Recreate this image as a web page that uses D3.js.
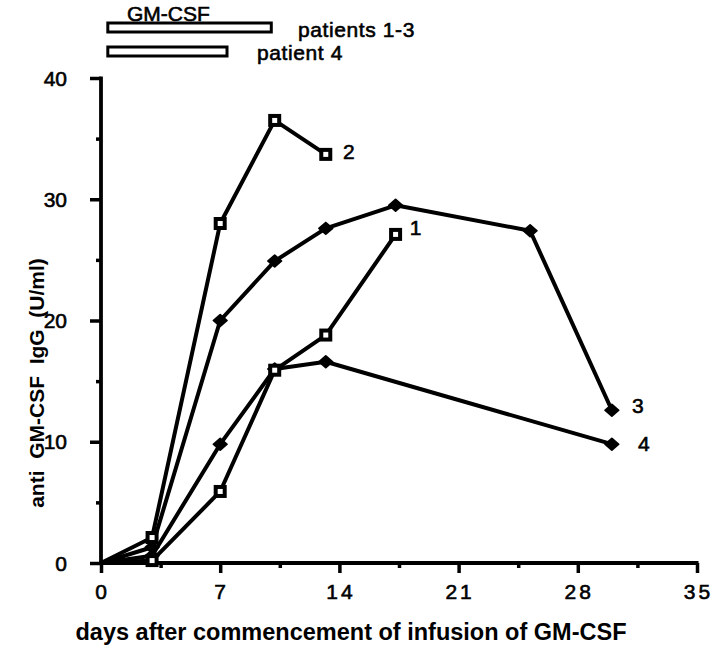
<!DOCTYPE html>
<html>
<head>
<meta charset="utf-8">
<script src="https://cdn.jsdelivr.net/npm/d3@7"></script>
<style>
  html, body { margin: 0; padding: 0; background: #fff; }
  svg { display: block; font-family: "Liberation Sans", Arial, Helvetica, sans-serif; }
  .reg { stroke: #000; stroke-width: 0.6px; }
</style>
</head>
<body>
<script>
// values (days, anti GM-CSF IgG U/ml)
const days1 = [0, 3, 7, 10.2, 13.2, 17.3];
const vals1 = [0, 0.2, 5.9, 15.9, 18.8, 27.1];
const days2 = [0, 3, 7, 10.2, 13.2];
const vals2 = [0, 2.1, 28, 36.5, 33.7];
const days3 = [0, 3, 7, 10.2, 13.2, 17.3, 25.2, 30];
const vals3 = [0, 1.3, 20, 24.9, 27.6, 29.5, 27.4, 12.6];
const days4 = [0, 3, 7, 10.2, 13.2, 30];
const vals4 = [0, 0.6, 9.8, 16, 16.6, 9.8];

const seriesNames = ["1", "2", "3", "4"];
const seriesMarks = ["square", "square", "diamond", "diamond"];

const xTicks = [0, 7, 14, 21, 28, 35];
const yTicks = [0, 10, 20, 30, 40];

// infusion periods shown as bars above the plot
const infusionLabels = ["patients 1-3", "patient 4"];
const infusionStart = [0.4, 0.4];
const infusionEnd = [10, 7.4];

const width = 712, height = 646;
const svg = d3.select("body").append("svg")
    .attr("width", width).attr("height", height);

const x = d3.scaleLinear().domain([0, 35]).range([101, 697]);
const y = d3.scaleLinear().domain([0, 40]).range([563, 78]);

// axes
const xAxis = svg.append("g").attr("transform", "translate(0," + y(0) + ")");
xAxis.call(d3.axisBottom(x).tickValues(d3.range(0, 35.1, 3.5)).tickSize(5).tickFormat(""));
xAxis.call(g => g.selectAll(".tick").filter(d => d % 7 === 0).select("line").attr("y2", 10));
xAxis.selectAll("path.domain").remove();
xAxis.append("line").attr("x1", x(0) - 2).attr("x2", x(35) + 1.5).attr("stroke", "#000").attr("stroke-width", 3.8);
xAxis.selectAll(".tick line").attr("stroke", "#000").attr("stroke-width", 3.5);

svg.append("g").selectAll("text").data(xTicks).join("text")
    .attr("class", "reg")
    .attr("x", d => x(d) + 1.5)
    .attr("y", 599)
    .attr("text-anchor", "middle")
    .attr("font-size", 21)
    .attr("letter-spacing", 3)
    .text(d => d);

const yAxis = svg.append("g").attr("transform", "translate(" + x(0) + ",0)");
yAxis.call(d3.axisLeft(y).tickValues(d3.range(0, 40.1, 5)).tickSize(5).tickFormat(""));
yAxis.call(g => g.selectAll(".tick").filter(d => d % 10 === 0).select("line").attr("x2", -11));
yAxis.selectAll("path.domain").remove();
yAxis.append("line").attr("y1", y(0) + 1.5).attr("y2", y(40) - 1.5).attr("stroke", "#000").attr("stroke-width", 3.8);
yAxis.selectAll(".tick line").attr("stroke", "#000").attr("stroke-width", 3.5);

svg.append("g").selectAll("text").data(yTicks).join("text")
    .attr("class", "reg")
    .attr("x", 67)
    .attr("y", d => y(d) + 7.5)
    .attr("text-anchor", "end")
    .attr("font-size", 21)
    .text(d => d);

// axis titles
svg.append("text")
    .attr("x", 351).attr("y", 640)
    .attr("text-anchor", "middle")
    .attr("font-size", 23.5)
    .attr("font-weight", "bold")
    .text("days after commencement of infusion of GM-CSF");

svg.append("text")
    .attr("transform", "translate(44,383) rotate(-90)")
    .attr("text-anchor", "middle")
    .attr("font-size", 21)
    .attr("font-weight", "bold")
    .style("white-space", "pre")
    .text("anti  GM-CSF  IgG  (U/ml)");

// series
const allDays = [days1, days2, days3, days4];
const allVals = [vals1, vals2, vals3, vals4];
const series = seriesNames.map((name, i) => ({
  name: name,
  mark: seriesMarks[i],
  points: allDays[i].map((d, j) => ({day: d, val: allVals[i][j]}))
}));

const line = d3.line().x(d => x(d.day)).y(d => y(d.val));

svg.append("g").selectAll("path").data(series).join("path")
    .attr("d", d => line(d.points))
    .attr("fill", "none")
    .attr("stroke", "#000")
    .attr("stroke-width", 4)
    .attr("stroke-linejoin", "round");

const diamond = d3.symbol().type(d3.symbolDiamond2).size(90);

// diamonds first so the squares sit on top where they overlap
const ordered = series.filter(s => s.mark === "diamond").concat(series.filter(s => s.mark === "square"));
ordered.forEach(s => {
  const pts = s.points.filter(p => p.day > 0);
  const g = svg.append("g");
  if (s.mark === "square") {
    g.selectAll("rect").data(pts).join("rect")
        .attr("x", p => x(p.day) - 4.5)
        .attr("y", p => y(p.val) - 4.5)
        .attr("width", 9).attr("height", 9)
        .attr("fill", "#fff")
        .attr("stroke", "#000")
        .attr("stroke-width", 4);
  } else {
    g.selectAll("path").data(pts).join("path")
        .attr("transform", p => "translate(" + x(p.day) + "," + y(p.val) + ") scale(1.15,1)")
        .attr("d", diamond)
        .attr("fill", "#000")
        .attr("stroke", "#000")
        .attr("stroke-width", 1.5)
        .attr("stroke-linejoin", "round");
  }
});

// end-of-line labels
const labelDx = [20, 23, 26, 32];
const labelDy = [-7, -3, -5, -1];
svg.append("g").selectAll("text").data(series).join("text")
    .attr("class", "reg")
    .attr("x", (s, i) => x(s.points[s.points.length - 1].day) + labelDx[i])
    .attr("y", (s, i) => y(s.points[s.points.length - 1].val) + labelDy[i] + 7.5)
    .attr("text-anchor", "middle")
    .attr("font-size", 21)
    .text(s => s.name);

// infusion bars
const barTop = [23, 47];
const bars = svg.append("g");
bars.selectAll("rect").data(infusionLabels).join("rect")
    .attr("x", (d, i) => x(infusionStart[i]))
    .attr("y", (d, i) => barTop[i])
    .attr("width", (d, i) => x(infusionEnd[i]) - x(infusionStart[i]))
    .attr("height", 9)
    .attr("fill", "#fff")
    .attr("stroke", "#000")
    .attr("stroke-width", 3);

const labelX = [298, 257];
const labelY = [37, 60];
bars.selectAll("text").data(infusionLabels).join("text")
    .attr("class", "reg")
    .attr("x", (d, i) => labelX[i])
    .attr("y", (d, i) => labelY[i])
    .attr("font-size", 21)
    .attr("letter-spacing", 0.6)
    .text(d => d);

svg.append("text")
    .attr("class", "reg")
    .attr("x", 127).attr("y", 21)
    .attr("font-size", 21)
    .text("GM-CSF");
</script>
</body>
</html>
